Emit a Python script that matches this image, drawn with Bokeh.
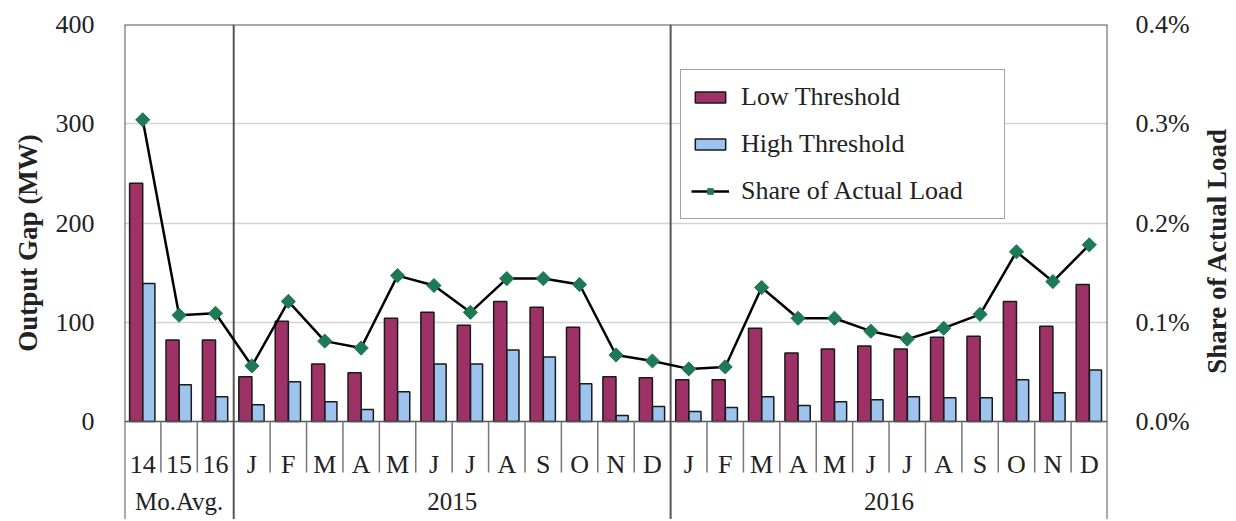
import math
from bokeh.plotting import figure
from bokeh.layouts import row
from bokeh.models import (Range1d, LinearAxis, FixedTicker, PrintfTickFormatter, Legend,
                          LegendItem, ColumnDataSource)
from bokeh.core.properties import value
from bokeh.embed import file_html
from bokeh.resources import INLINE

# ---------------- data ----------------
categories = ["14", "15", "16",
              "J", "F", "M", "A", "M", "J", "J", "A", "S", "O", "N", "D",
              "J", "F", "M", "A", "M", "J", "J", "A", "S", "O", "N", "D"]
groups = ["Mo.Avg.", "2015", "2016"]
group_sizes = [3, 12, 12]
low_threshold = [240, 82, 82,
                 45, 101, 58, 49, 104, 110, 97, 121, 115, 95, 45, 44,
                 42, 42, 94, 69, 73, 76, 73, 85, 86, 121, 96, 138]
high_threshold = [139, 37, 25,
                  17, 40, 20, 12, 30, 58, 58, 72, 65, 38, 6, 15,
                  10, 14, 25, 16, 20, 22, 25, 24, 24, 42, 29, 52]
share_pct = [0.304, 0.107, 0.109,
             0.056, 0.121, 0.081, 0.074, 0.147, 0.137, 0.110, 0.144, 0.144, 0.138, 0.067, 0.061,
             0.053, 0.055, 0.135, 0.104, 0.104, 0.091, 0.083, 0.094, 0.108, 0.171, 0.141, 0.178]
left_ticks = [0, 100, 200, 300, 400]
right_ticks = [0.0, 0.1, 0.2, 0.3, 0.4]
left_title = "Output Gap (MW)"
right_title = "Share of Actual Load"

# ---------------- layout ----------------
H = 519
LEFT_W, RIGHT_W = 50, 40
BL, BR, BT = 74, 85, 24
FRAME_W = 983
W = BL + FRAME_W + BR
frame_h = H - BT
px_per_unit = 397.0 / 400.0          # plot area 0..400 spans 397 px
ymin = -(frame_h - 397.0) / px_per_unit
ymax = 400
n = len(categories)

FONT = value("Liberation Serif")
RED = "#9E3267"
BLUE = "#9DC3EF"
GREEN = "#1E7A55"
LINECOL = "#555555"
TXT = "#222222"

p = figure(width=W, height=H, output_backend="svg", toolbar_location=None,
           x_range=Range1d(0, n), y_range=Range1d(ymin, ymax),
           min_border_left=BL, min_border_right=BR, min_border_top=BT, min_border_bottom=0)
p.outline_line_color = None
p.xaxis.visible = False
p.xgrid.visible = False

# left axis
ya = p.yaxis[0]
ya.ticker = FixedTicker(ticks=left_ticks)
ya.axis_line_color = None
ya.major_tick_line_color = None
ya.minor_tick_line_color = None
ya.major_label_standoff = 24
ya.major_label_text_font = "Liberation Serif"
ya.major_label_text_font_size = "26px"
ya.major_label_text_color = TXT
p.ygrid.ticker = FixedTicker(ticks=left_ticks[1:-1])
p.ygrid.grid_line_color = "#d4d4d4"
p.ygrid.grid_line_width = 1.5

# right axis
p.extra_y_ranges = {"share": Range1d(ymin / 1000.0, ymax / 1000.0)}
ra = LinearAxis(y_range_name="share", ticker=FixedTicker(ticks=right_ticks),
                formatter=PrintfTickFormatter(format="%.1f%%"))
ra.axis_line_color = None
ra.major_tick_line_color = None
ra.minor_tick_line_color = None
ra.major_label_standoff = 22
ra.major_label_text_font = "Liberation Serif"
ra.major_label_text_font_size = "26px"
ra.major_label_text_color = TXT
p.add_layout(ra, "right")

# bars
xs = list(range(n))
src = ColumnDataSource(dict(
    xl=[i + 0.32 for i in xs], xh=[i + 0.67 for i in xs], xc=[i + 0.5 for i in xs],
    low=low_threshold, high=high_threshold, share=share_pct, cat=categories))
r_low = p.vbar(x="xl", top="low", bottom=0, width=0.36, source=src,
               fill_color=RED, line_color="#1a1a1a", line_width=1.5)
r_high = p.vbar(x="xh", top="high", bottom=0, width=0.33, source=src,
                fill_color=BLUE, line_color="#1a1a1a", line_width=1.5)

# structure lines
p.segment(x0=[0], y0=[0], x1=[n], y1=[0], line_color=LINECOL, line_width=1.5)
p.segment(x0=[0], y0=[400], x1=[n], y1=[400], line_color=LINECOL, line_width=2)
bounds = [0]
for s in group_sizes:
    bounds.append(bounds[-1] + s)
p.segment(x0=bounds, y0=[400] * len(bounds), x1=bounds, y1=[ymin] * len(bounds),
          line_color=LINECOL, line_width=2)
seps = [b for b in range(1, n) if b not in bounds]
sep_len = 51 / px_per_unit
p.segment(x0=seps, y0=[0] * len(seps), x1=seps, y1=[-sep_len] * len(seps),
          line_color="#777777", line_width=1.5)

# share line
r_line = p.line(x="xc", y="share", y_range_name="share", source=src,
                line_color="black", line_width=2.5)
r_pts = p.scatter(x="xc", y="share", y_range_name="share", source=src, marker="square",
                  angle=math.pi / 4, size=10, fill_color=GREEN, line_color=GREEN)

# category labels
cat_y = -43 / px_per_unit
p.text(x="xc", y=cat_y, text="cat", source=src, text_font=FONT, text_font_size="26px",
       text_align="center", text_baseline="middle", text_color=TXT)
gx = [(bounds[i] + bounds[i + 1]) / 2 for i in range(len(groups))]
p.text(x=gx, y=[-80 / px_per_unit] * len(groups), text=groups, text_font=FONT,
       text_font_size="25px", text_align="center", text_baseline="middle", text_color=TXT)

# legend
legend = Legend(items=[LegendItem(label="Low Threshold", renderers=[r_low]),
                       LegendItem(label="High Threshold", renderers=[r_high]),
                       LegendItem(label="Share of Actual Load", renderers=[r_line, r_pts])],
                location=(556, 300), orientation="vertical")
legend.label_text_font = "Liberation Serif"
legend.label_text_font_size = "26px"
legend.label_text_color = TXT
legend.glyph_width = 38
legend.glyph_height = 14
legend.label_height = 34
legend.label_width = 253
legend.spacing = 13
legend.padding = 10
legend.label_standoff = 12
legend.border_line_color = "#444444"
legend.border_line_width = 1.5
legend.background_fill_alpha = 1
p.add_layout(legend)


# side panels holding the rotated axis titles
def side_panel(width, title, x_center, y_center_from_top):
    f = figure(width=width, height=H, output_backend="svg", toolbar_location=None,
               x_range=Range1d(0, width), y_range=Range1d(0, H),
               x_axis_type=None, y_axis_type=None, min_border=0)
    f.outline_line_color = None
    f.grid.visible = False
    f.text(x=[x_center], y=[H - y_center_from_top], text=[title], angle=math.pi / 2,
           text_font=FONT, text_font_style="bold", text_font_size="27px",
           text_align="center", text_baseline="middle", text_color=TXT)
    return f


left_panel = side_panel(LEFT_W, left_title, 27, 229)
right_panel = side_panel(RIGHT_W, right_title, 24, 237)

layout = row(left_panel, p, right_panel, spacing=0)
open("out.html", "w").write(file_html(layout, INLINE))
